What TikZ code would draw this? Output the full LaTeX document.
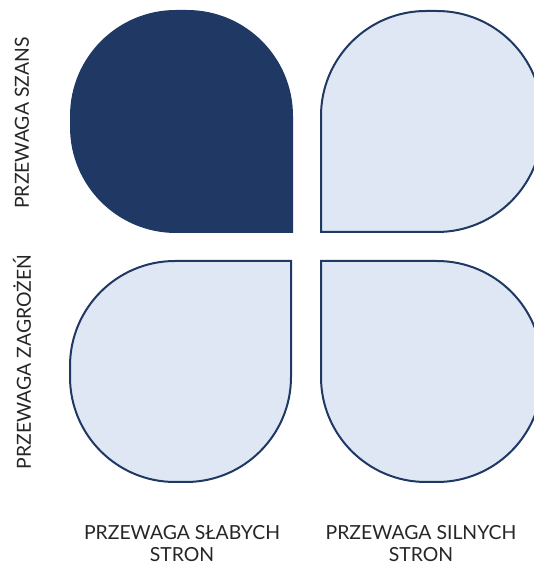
\documentclass[tikz,border=0pt]{standalone}
\usepackage{fontspec}
\setmainfont{Lato}
\usetikzlibrary{positioning}

\definecolor{navy}{HTML}{1F3864}
\definecolor{paleblue}{HTML}{DFE7F5}

\begin{document}
\begin{tikzpicture}[
            x=1pt, y=1pt,
            line join=miter
        ]

        \tikzstyle{every petal}=[
            draw=navy,
            line width=2pt,
            fill=paleblue
        ]
        \tikzstyle{dark petal}=[
            every petal,
            fill=navy
        ]
        \tikzstyle{axis label}=[
            font=\fontsize{19.4}{22}\selectfont,
            text=black!85,
            align=center,
            inner sep=0pt
        ]

        \useasboundingbox (0,0) rectangle (534,565);
        \clip (0,0) rectangle (534,565);

        % petal: sharp corner at origin, rounded elsewhere
        \def\petal#1{%
            \path[#1] (0,0) -- (0,116) arc (0:90:105) -- (-116,221)
                arc (90:180:105) -- (-221,105) arc (180:270:105) -- cycle;}

        \begin{scope}[shift={(292,333)}]
            \petal{dark petal}
        \end{scope}
        \begin{scope}[shift={(321,333)}, xscale=-1]
            \petal{every petal}
        \end{scope}
        \begin{scope}[shift={(291,304)}, yscale=-1]
            \petal{every petal}
        \end{scope}
        \begin{scope}[shift={(321,304)}, xscale=-1, yscale=-1]
            \petal{every petal}
        \end{scope}

        \node[axis label, rotate=90] (szans) at (22,442) {PRZEWAGA SZANS};
        \node[axis label, rotate=90] (zagrozen) at (22,203) {PRZEWAGA ZAGROŻEŃ};
        \node[axis label] (slabych) at (182,21) {PRZEWAGA SŁABYCH\\STRON};
        \node[axis label] (silnych) at (421,21) {PRZEWAGA SILNYCH\\STRON};

    \end{tikzpicture}
\end{document}
